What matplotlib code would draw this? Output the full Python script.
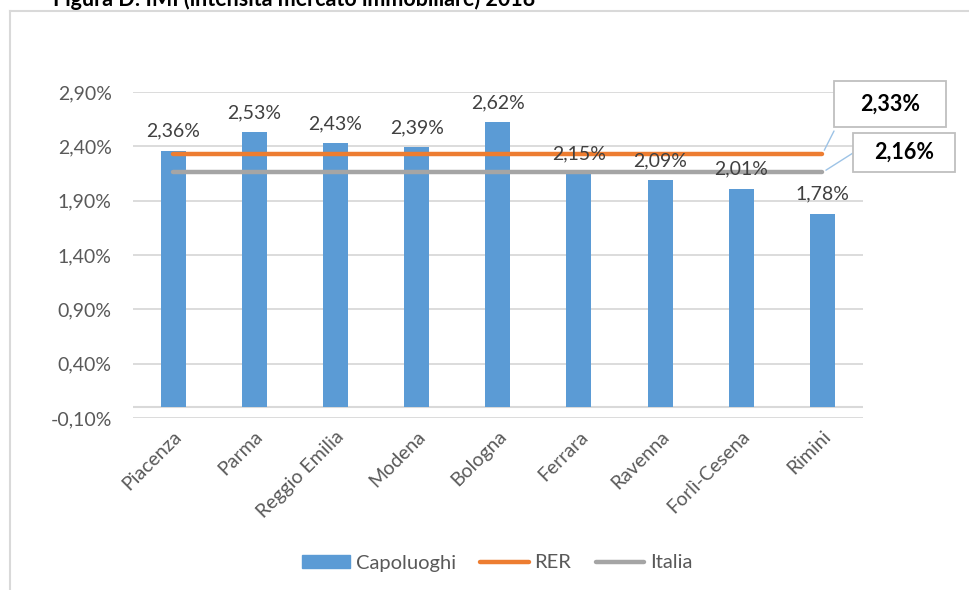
import matplotlib.pyplot as plt
from matplotlib.lines import Line2D
from matplotlib.patches import Patch, Rectangle

plt.rcParams['font.family'] = ['Lato', 'DejaVu Sans']

# IMI 2018 per capoluogo, in percent
cities = ['Piacenza', 'Parma', 'Reggio Emilia', 'Modena', 'Bologna',
          'Ferrara', 'Ravenna', 'Forlì-Cesena', 'Rimini']
imi = [2.36, 2.53, 2.43, 2.39, 2.62, 2.15, 2.09, 2.01, 1.78]
rer = 2.33
italia = 2.16
yticks = [-0.10, 0.40, 0.90, 1.40, 1.90, 2.40, 2.90]

blue = '#5B9BD5'
orange = '#ED7D31'
grey = '#A5A5A5'
txt = '#595959'
fs = 14


def pct(v):
    return ('%.2f%%' % v).replace('.', ',')


W, H = 969, 590
fig = plt.figure(figsize=(W / 100, H / 100), dpi=100)
ax = fig.add_axes([132.5 / W, 1 - 418 / H, 730.5 / W, 326 / H])

x = list(range(len(cities)))
ax.bar(x, imi, width=0.31, color=blue, zorder=2)
for xi, v in zip(x, imi):
    ax.annotate(pct(v), (xi, v), xytext=(0, 8), textcoords='offset points',
                ha='center', va='bottom', fontsize=fs, color='#404040', zorder=4)

ax.plot([x[0], x[-1]], [rer, rer], color=orange, lw=3.2,
        solid_capstyle='round', zorder=3)
ax.plot([x[0], x[-1]], [italia, italia], color=grey, lw=3.2,
        solid_capstyle='round', zorder=3)

ax.set_xlim(-0.5, len(cities) - 0.5)
ax.set_ylim(yticks[0], yticks[-1])
ax.set_yticks(yticks)
ax.set_yticklabels([pct(t) for t in yticks])
ax.yaxis.grid(True, color='#D9D9D9', lw=1.3, zorder=0)
ax.axhline(0, color='#D9D9D9', lw=1.5, zorder=1)
ax.set_xticks(x)
ax.set_xticklabels(cities, rotation=45, ha='right', rotation_mode='anchor')
ax.tick_params(axis='both', length=0, labelsize=fs, labelcolor=txt)
ax.tick_params(axis='y', pad=15)
ax.tick_params(axis='x', pad=7)
for s in ax.spines.values():
    s.set_visible(False)

# callout boxes for the two reference lines
def callout(val, y_end, box, anchor):
    x0, y0, x1, y1 = box
    fig.add_artist(Rectangle((x0 / W, 1 - y1 / H), (x1 - x0) / W, (y1 - y0) / H,
                             transform=fig.transFigure, fc='white',
                             ec='#BFBFBF', lw=1.3, zorder=5))
    fig.text((x0 + x1) / 2 / W, 1 - (y0 + y1) / 2 / H, pct(val),
             ha='center', va='center', fontsize=15.5, fontweight='bold',
             color='black', zorder=6)
    ax.annotate('', xy=(x[-1], y_end), xytext=(anchor[0], H - anchor[1]),
                textcoords='figure pixels',
                arrowprops=dict(arrowstyle='-', color='#9DC3E6', lw=1,
                                shrinkA=0, shrinkB=3))

callout(rer, rer, (834, 81, 946, 127), (834, 131))
callout(italia, italia, (853, 133, 955, 172), (853, 153))

# legend
handles = [Patch(color=blue), Line2D([], [], color=orange, lw=3.2, solid_capstyle='round'),
           Line2D([], [], color=grey, lw=3.2, solid_capstyle='round')]
leg = fig.legend(handles, ['Capoluoghi', 'RER', 'Italia'], loc='center',
                 bbox_to_anchor=(497 / W, 1 - 563 / H), ncol=3, frameon=False,
                 fontsize=14.5, handlelength=2.4, handleheight=0.6,
                 handletextpad=0.3, columnspacing=1.2)
for t in leg.get_texts():
    t.set_color(txt)

# chart frame, cut at the right and bottom edges
fig.add_artist(Line2D([10 / W, 1], [1 - 11 / H, 1 - 11 / H], transform=fig.transFigure,
                      color='#D9D9D9', lw=1.5))
fig.add_artist(Line2D([10 / W, 10 / W], [1 - 11 / H, 0], transform=fig.transFigure,
                      color='#D9D9D9', lw=1.5))

fig.text(53 / W, 1 - 6 / H, 'Figura D: IMI (intensità mercato immobiliare) 2018',
         ha='left', va='baseline', fontsize=15.5, fontweight='bold', color='black')

fig.savefig('out.png', dpi=100)
